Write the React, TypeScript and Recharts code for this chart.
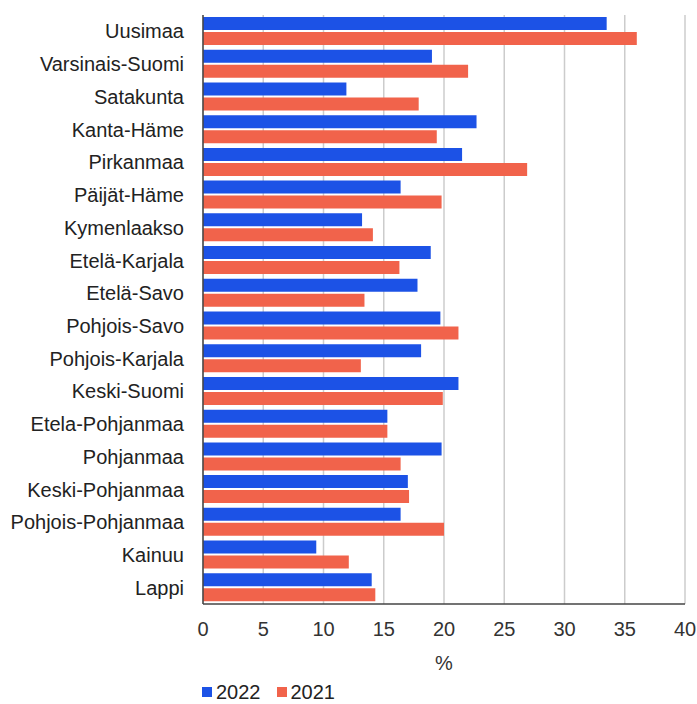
import React from 'react'
import { BarChart, Bar, XAxis, YAxis, CartesianGrid, Legend, Label } from 'recharts'

const regions = [
  'Uusimaa', 'Varsinais-Suomi', 'Satakunta', 'Kanta-Häme', 'Pirkanmaa', 'Päijät-Häme',
  'Kymenlaakso', 'Etelä-Karjala', 'Etelä-Savo', 'Pohjois-Savo', 'Pohjois-Karjala',
  'Keski-Suomi', 'Etela-Pohjanmaa', 'Pohjanmaa', 'Keski-Pohjanmaa', 'Pohjois-Pohjanmaa',
  'Kainuu', 'Lappi',
]
const values2022 = [33.5, 19.0, 11.9, 22.7, 21.5, 16.4, 13.2, 18.9, 17.8, 19.7, 18.1, 21.2, 15.3, 19.8, 17.0, 16.4, 9.4, 14.0]
const values2021 = [36.0, 22.0, 17.9, 19.4, 26.9, 19.8, 14.1, 16.3, 13.4, 21.2, 13.1, 19.9, 15.3, 16.4, 17.1, 20.0, 12.1, 14.3]
const xTicks = [0, 5, 10, 15, 20, 25, 30, 35, 40]

const BLUE = '#1c52e6'
const RED = '#f1634b'
const FONT = '"Liberation Sans", Arial, sans-serif'

const data = regions.map((region, i) => ({ region, y2022: values2022[i], y2021: values2021[i] }))

const LegendContent = () => (
  <div style={{ display: 'flex', alignItems: 'center', fontFamily: FONT, fontSize: 20, color: '#222', lineHeight: '24px' }}>
    <span style={{ width: 10, height: 10, background: BLUE, marginRight: 4 }} />
    <span style={{ marginRight: 16 }}>2022</span>
    <span style={{ width: 10, height: 10, background: RED, marginRight: 4 }} />
    <span>2021</span>
  </div>
)

const App = () => {
  return (
    <div style={{ position: 'absolute', left: 0, top: 0, background: '#fff' }}>
      <BarChart
        width={697}
        height={704}
        data={data}
        layout="vertical"
        margin={{ top: 15, right: 12, left: 0, bottom: 8 }}
        barSize={13}
        barGap={2}
      >
        <CartesianGrid horizontal={false} stroke="#cccccc" strokeWidth={1.5} />
        <XAxis
          type="number"
          domain={[0, 40]}
          ticks={xTicks}
          interval={0}
          tickLine={false}
          axisLine={{ stroke: '#444', strokeWidth: 1.5 }}
          tickMargin={12}
          height={68}
          tick={{ fontSize: 20, fill: '#333', fontFamily: FONT }}
        >
          <Label value="%" position="insideBottom" offset={2} style={{ fontSize: 20, fill: '#333', fontFamily: FONT }} />
        </XAxis>
        <YAxis
          type="category"
          dataKey="region"
          width={203}
          interval={0}
          tickLine={false}
          tickMargin={13}
          axisLine={{ stroke: '#444', strokeWidth: 1.5 }}
          tick={{ fontSize: 20, fill: '#222', fontFamily: FONT }}
        />
        <Legend
          verticalAlign="bottom"
          align="left"
          height={24}
          content={LegendContent}
          wrapperStyle={{ left: 202, bottom: 0, width: 'auto' }}
        />
        <Bar dataKey="y2022" name="2022" fill={BLUE} isAnimationActive={false} />
        <Bar dataKey="y2021" name="2021" fill={RED} isAnimationActive={false} />
      </BarChart>
    </div>
  )
}

export default App
